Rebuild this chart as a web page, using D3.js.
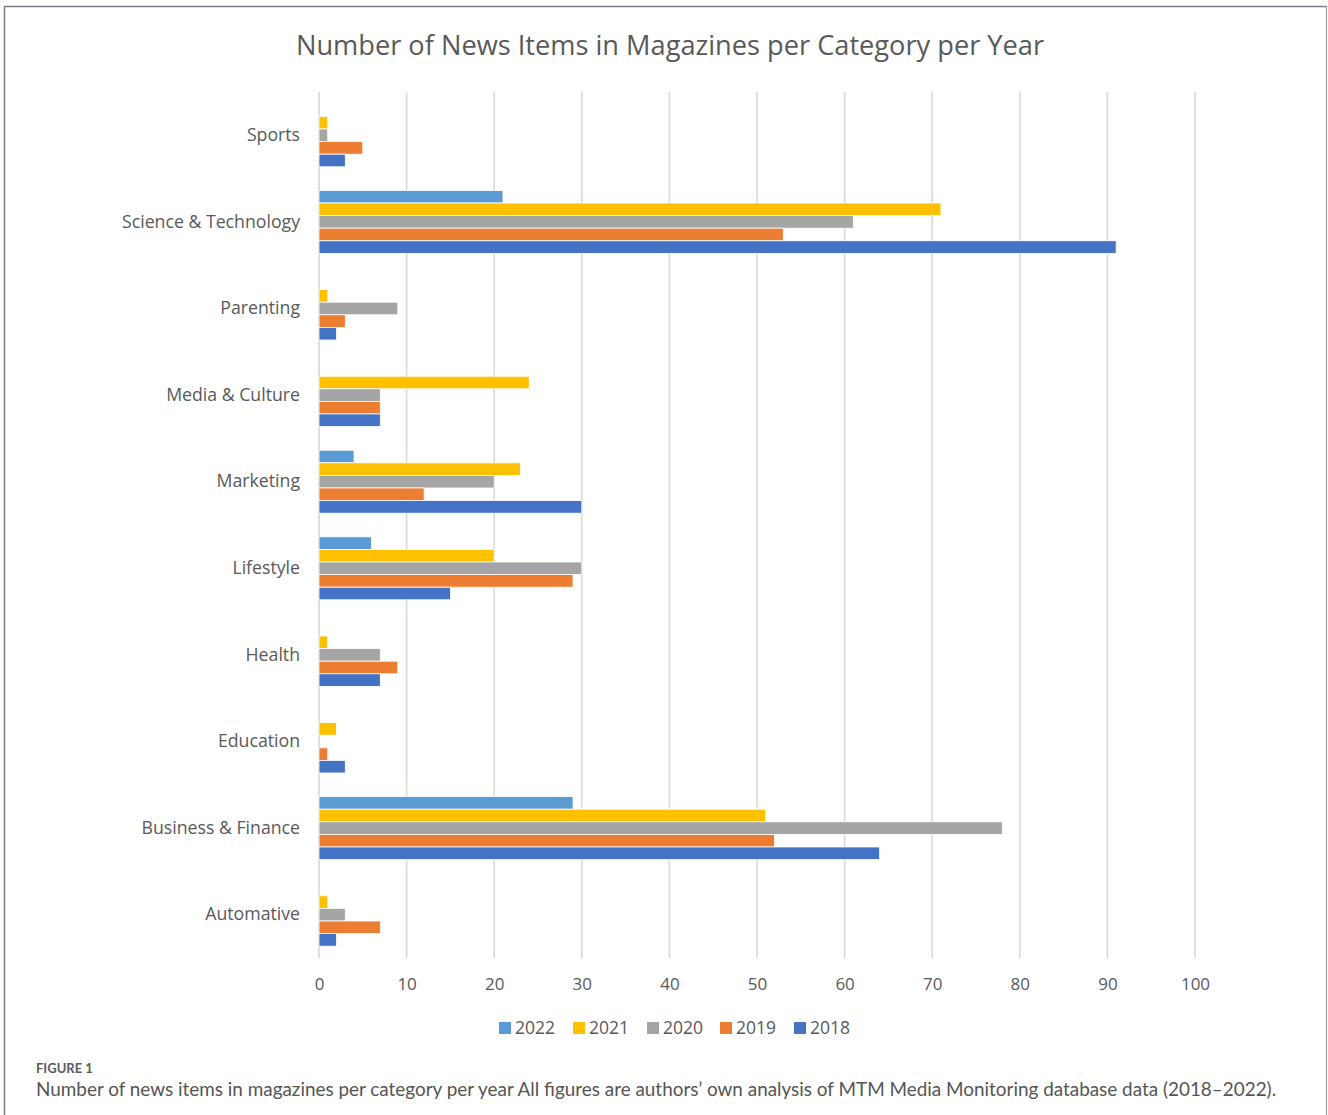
<!DOCTYPE html>
<html>
<head>
<meta charset="utf-8">
<script src="https://cdn.jsdelivr.net/npm/d3@7"></script>
<style>
  html, body { margin: 0; padding: 0; background: #fff; }
  svg { display: block; }
</style>
</head>
<body>
<svg id="chart" width="1328" height="1115"></svg>
<script>
// Categories, listed top to bottom
const categories = ["Sports", "Science & Technology", "Parenting", "Media & Culture", "Marketing",
                    "Lifestyle", "Health", "Education", "Business & Finance", "Automative"];

// Series, listed in the order they are stacked inside each group (top to bottom)
const years = ["2022", "2021", "2020", "2019", "2018"];
const values2022 = [0, 21, 0, 0, 4, 6, 0, 0, 29, 0];
const values2021 = [1, 71, 1, 24, 23, 20, 1, 2, 51, 1];
const values2020 = [1, 61, 9, 7, 20, 30, 7, 0, 78, 3];
const values2019 = [5, 53, 3, 7, 12, 29, 9, 1, 52, 7];
const values2018 = [3, 91, 2, 7, 30, 15, 7, 3, 64, 2];
const xTicks = [0, 10, 20, 30, 40, 50, 60, 70, 80, 90, 100];

const seriesValues = {
  "2022": values2022, "2021": values2021, "2020": values2020,
  "2019": values2019, "2018": values2018
};
const colors = {
  "2022": "#5B9BD5", "2021": "#FFC000", "2020": "#A5A5A5",
  "2019": "#ED7D31", "2018": "#4472C4"
};

const svg = d3.select("#chart");
const textColor = "#595959";
const font = "'Open Sans', 'DejaVu Sans', sans-serif";

// Figure frame
svg.append("path")
  .attr("d", "M4.5,1115 V6.5 H1327")
  .attr("fill", "none").attr("stroke", "#7a7f8c").attr("stroke-width", 1.5);
svg.append("line")
  .attr("x1", 1326.5).attr("x2", 1326.5).attr("y1", 6).attr("y2", 1115)
  .attr("stroke", "#a0a0a0").attr("stroke-width", 1.2);

// Plot area
const plot = { left: 319, right: 1195, top: 92, bottom: 958 };

const x = d3.scaleLinear().domain([0, 100]).range([plot.left, plot.right]);
const y = d3.scaleBand().domain(categories).range([plot.top, plot.bottom]).padding(0);
const groupGap = y.bandwidth() * 0.273;
const yInner = d3.scaleBand().domain(years)
  .range([groupGap / 2, y.bandwidth() - groupGap / 2]).padding(0);

// Title
svg.append("text")
  .attr("x", 670).attr("y", 55)
  .attr("text-anchor", "middle")
  .attr("font-family", font)
  .attr("font-size", 27.2)
  .attr("fill", textColor)
  .text("Number of News Items in Magazines per Category per Year");

// Vertical gridlines
svg.append("g")
  .selectAll("line")
  .data(xTicks)
  .join("line")
  .attr("x1", d => x(d)).attr("x2", d => x(d))
  .attr("y1", plot.top).attr("y2", plot.bottom)
  .attr("stroke", "#d9d9d9").attr("stroke-width", 1.6);

// Bars
const groups = svg.append("g")
  .selectAll("g")
  .data(categories)
  .join("g")
  .attr("transform", d => `translate(0,${y(d)})`);

groups.selectAll("rect")
  .data((c, i) => years.map(yr => ({ year: yr, value: seriesValues[yr][i] })))
  .join("rect")
  .attr("x", x(0))
  .attr("y", d => yInner(d.year))
  .attr("width", d => Math.max(0, x(d.value) - x(0)))
  .attr("height", yInner.bandwidth())
  .attr("fill", d => colors[d.year])
  .attr("stroke", d => d.value > 0 ? "#ffffff" : "none")
  .attr("stroke-width", 0.8);

// Category axis labels
const yAxis = d3.axisLeft(y).tickSize(0).tickPadding(0);
const yAxisG = svg.append("g")
  .attr("transform", `translate(${plot.left - 19},0)`)
  .call(yAxis);
yAxisG.select(".domain").remove();
yAxisG.selectAll("text")
  .attr("font-family", font)
  .attr("font-size", 17.7)
  .attr("fill", textColor);

// Value axis labels
const xAxis = d3.axisBottom(x).tickValues(xTicks).tickSize(0).tickPadding(0);
const xAxisG = svg.append("g")
  .attr("transform", `translate(0,${plot.bottom + 20})`)
  .call(xAxis);
xAxisG.select(".domain").remove();
xAxisG.selectAll("text")
  .attr("font-family", font)
  .attr("font-size", 17)
  .attr("fill", textColor);

// Legend
const legendX = [499, 573, 647, 720, 794];
const legend = svg.append("g")
  .selectAll("g")
  .data(years)
  .join("g")
  .attr("transform", (d, i) => `translate(${legendX[i]},1028)`);
legend.append("rect")
  .attr("x", 0).attr("y", -6).attr("width", 12).attr("height", 12)
  .attr("fill", d => colors[d]);
legend.append("text")
  .attr("x", 16).attr("y", 0).attr("dy", "0.35em")
  .attr("font-family", font)
  .attr("font-size", 17.5)
  .attr("fill", textColor)
  .text(d => d);

// Caption
svg.append("text")
  .attr("x", 36).attr("y", 1073)
  .attr("font-family", "Lato, 'Open Sans', sans-serif")
  .attr("font-size", 13)
  .attr("font-weight", "bold")
  .attr("fill", "#5a5a5a")
  .text("FIGURE 1");
svg.append("text")
  .attr("x", 36).attr("y", 1096)
  .attr("font-family", "Lato, 'Open Sans', sans-serif")
  .attr("font-size", 18.9)
  .attr("fill", "#555555")
  .text("Number of news items in magazines per category per year All figures are authors\u2019 own analysis of MTM Media Monitoring database data (2018\u20132022).");
</script>
</body>
</html>
